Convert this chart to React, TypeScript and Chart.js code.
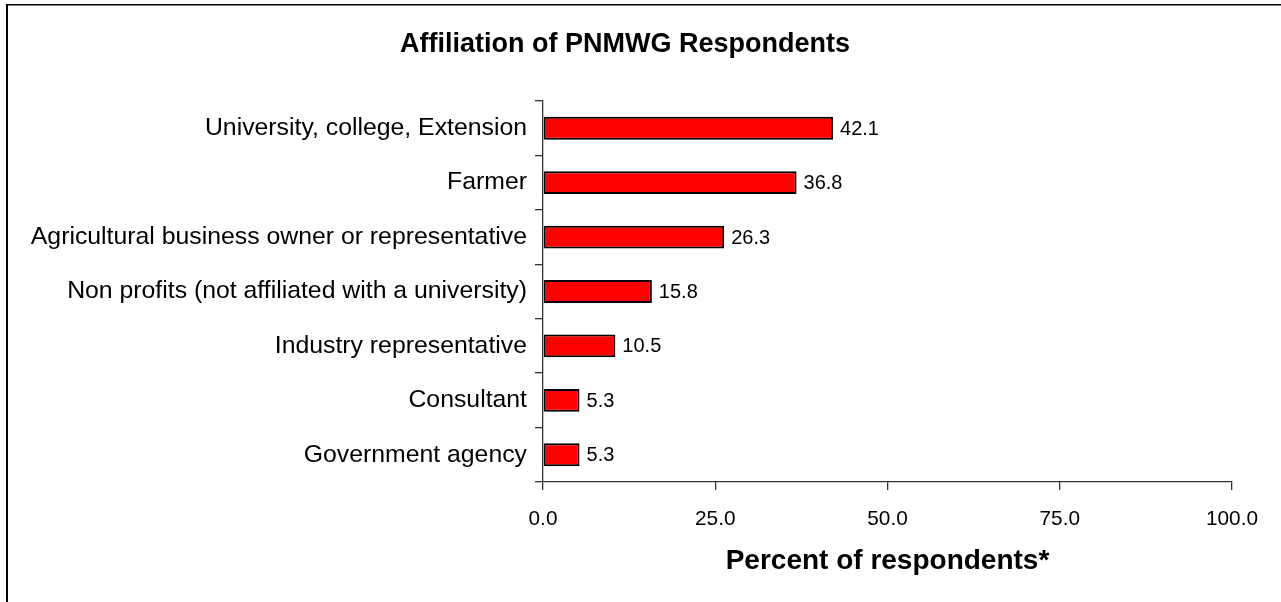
import React, { useEffect, useRef } from "react";
import { Chart, registerables } from "chart.js";

Chart.register(...registerables);

const categories = [
  "University, college, Extension",
  "Farmer",
  "Agricultural business owner or representative",
  "Non profits (not affiliated with a university)",
  "Industry representative",
  "Consultant",
  "Government agency",
];
const percentValues = [42.1, 36.8, 26.3, 15.8, 10.5, 5.3, 5.3];
const xTickValues = [0, 25, 50, 75, 100];
const chartTitle = "Affiliation of PNMWG Respondents";
const xAxisTitle = "Percent of respondents*";

const FONT = "'Liberation Sans', Arial, Helvetica, sans-serif";

// frame, title and value labels drawn on top of the chart
const decorations = {
  id: "decorations",
  beforeDraw(chart: any) {
    const ctx = chart.ctx;
    ctx.save();
    ctx.fillStyle = "#ffffff";
    ctx.fillRect(0, 0, chart.width, chart.height);
    ctx.restore();
  },
  afterDraw(chart: any) {
    const ctx = chart.ctx;
    ctx.save();
    // outer frame (left and top edges)
    ctx.fillStyle = "#000000";
    ctx.fillRect(6, 4, 2, chart.height - 4);
    ctx.fillRect(6, 4, chart.width - 6, 1.5);

    // title
    ctx.font = `bold 27px ${FONT}`;
    ctx.textAlign = "center";
    ctx.textBaseline = "middle";
    ctx.fillText(chartTitle, 625, 45);

    // value labels at bar ends
    const meta = chart.getDatasetMeta(0);
    ctx.font = `20px ${FONT}`;
    ctx.textAlign = "left";
    meta.data.forEach((bar: any, i: number) => {
      ctx.fillText(percentValues[i].toFixed(1), bar.x + 7, bar.y + 1);
    });
    ctx.restore();
  },
};

export default function App() {
  const canvasRef = useRef<HTMLCanvasElement | null>(null);

  useEffect(() => {
    if (!canvasRef.current) return;
    const chart = new Chart(canvasRef.current, {
      type: "bar",
      data: {
        labels: categories,
        datasets: [
          {
            data: percentValues,
            backgroundColor: "#FF0000",
            borderColor: "#000000",
            borderWidth: 2,
            borderSkipped: false,
            categoryPercentage: 1,
            barPercentage: 0.42,
          },
        ],
      },
      options: {
        indexAxis: "y",
        animation: false,
        responsive: true,
        maintainAspectRatio: false,
        layout: { padding: { top: 101, right: 49, bottom: 0, left: 0 } },
        plugins: {
          legend: { display: false },
          title: { display: false },
          tooltip: { enabled: false },
        },
        scales: {
          y: {
            type: "category",
            offset: true,
            grid: {
              offset: true,
              drawOnChartArea: false,
              drawTicks: true,
              tickLength: 8,
              color: "#333333",
              lineWidth: 1.3,
            },
            border: { display: true, color: "#333333", width: 1.3 },
            ticks: {
              color: "#000000",
              padding: 8,
              font: { family: FONT, size: 24.8 },
            },
            afterFit(scale: any) {
              scale.width = 543;
            },
          },
          x: {
            type: "linear",
            min: 0,
            max: 100,
            afterBuildTicks(scale: any) {
              scale.ticks = xTickValues.map((v) => ({ value: v }));
            },
            grid: {
              drawOnChartArea: false,
              drawTicks: true,
              tickLength: 8,
              color: "#333333",
              lineWidth: 1.3,
            },
            border: { display: true, color: "#333333", width: 1.3 },
            ticks: {
              color: "#000000",
              padding: 17,
              maxRotation: 0,
              font: { family: FONT, size: 20.8 },
              callback: (v: any) => Number(v).toFixed(1),
            },
            title: {
              display: true,
              text: xAxisTitle,
              color: "#000000",
              font: { family: FONT, size: 28, weight: "bold" },
              padding: { top: 0, bottom: 24 },
            },
            afterFit(scale: any) {
              scale.height = 120;
            },
          },
        },
      },
      plugins: [decorations],
    });
    return () => chart.destroy();
  }, []);

  return (
    <div style={{ position: "fixed", left: 0, top: 0, width: 1281, height: 602 }}>
      <canvas ref={canvasRef} />
    </div>
  );
}
